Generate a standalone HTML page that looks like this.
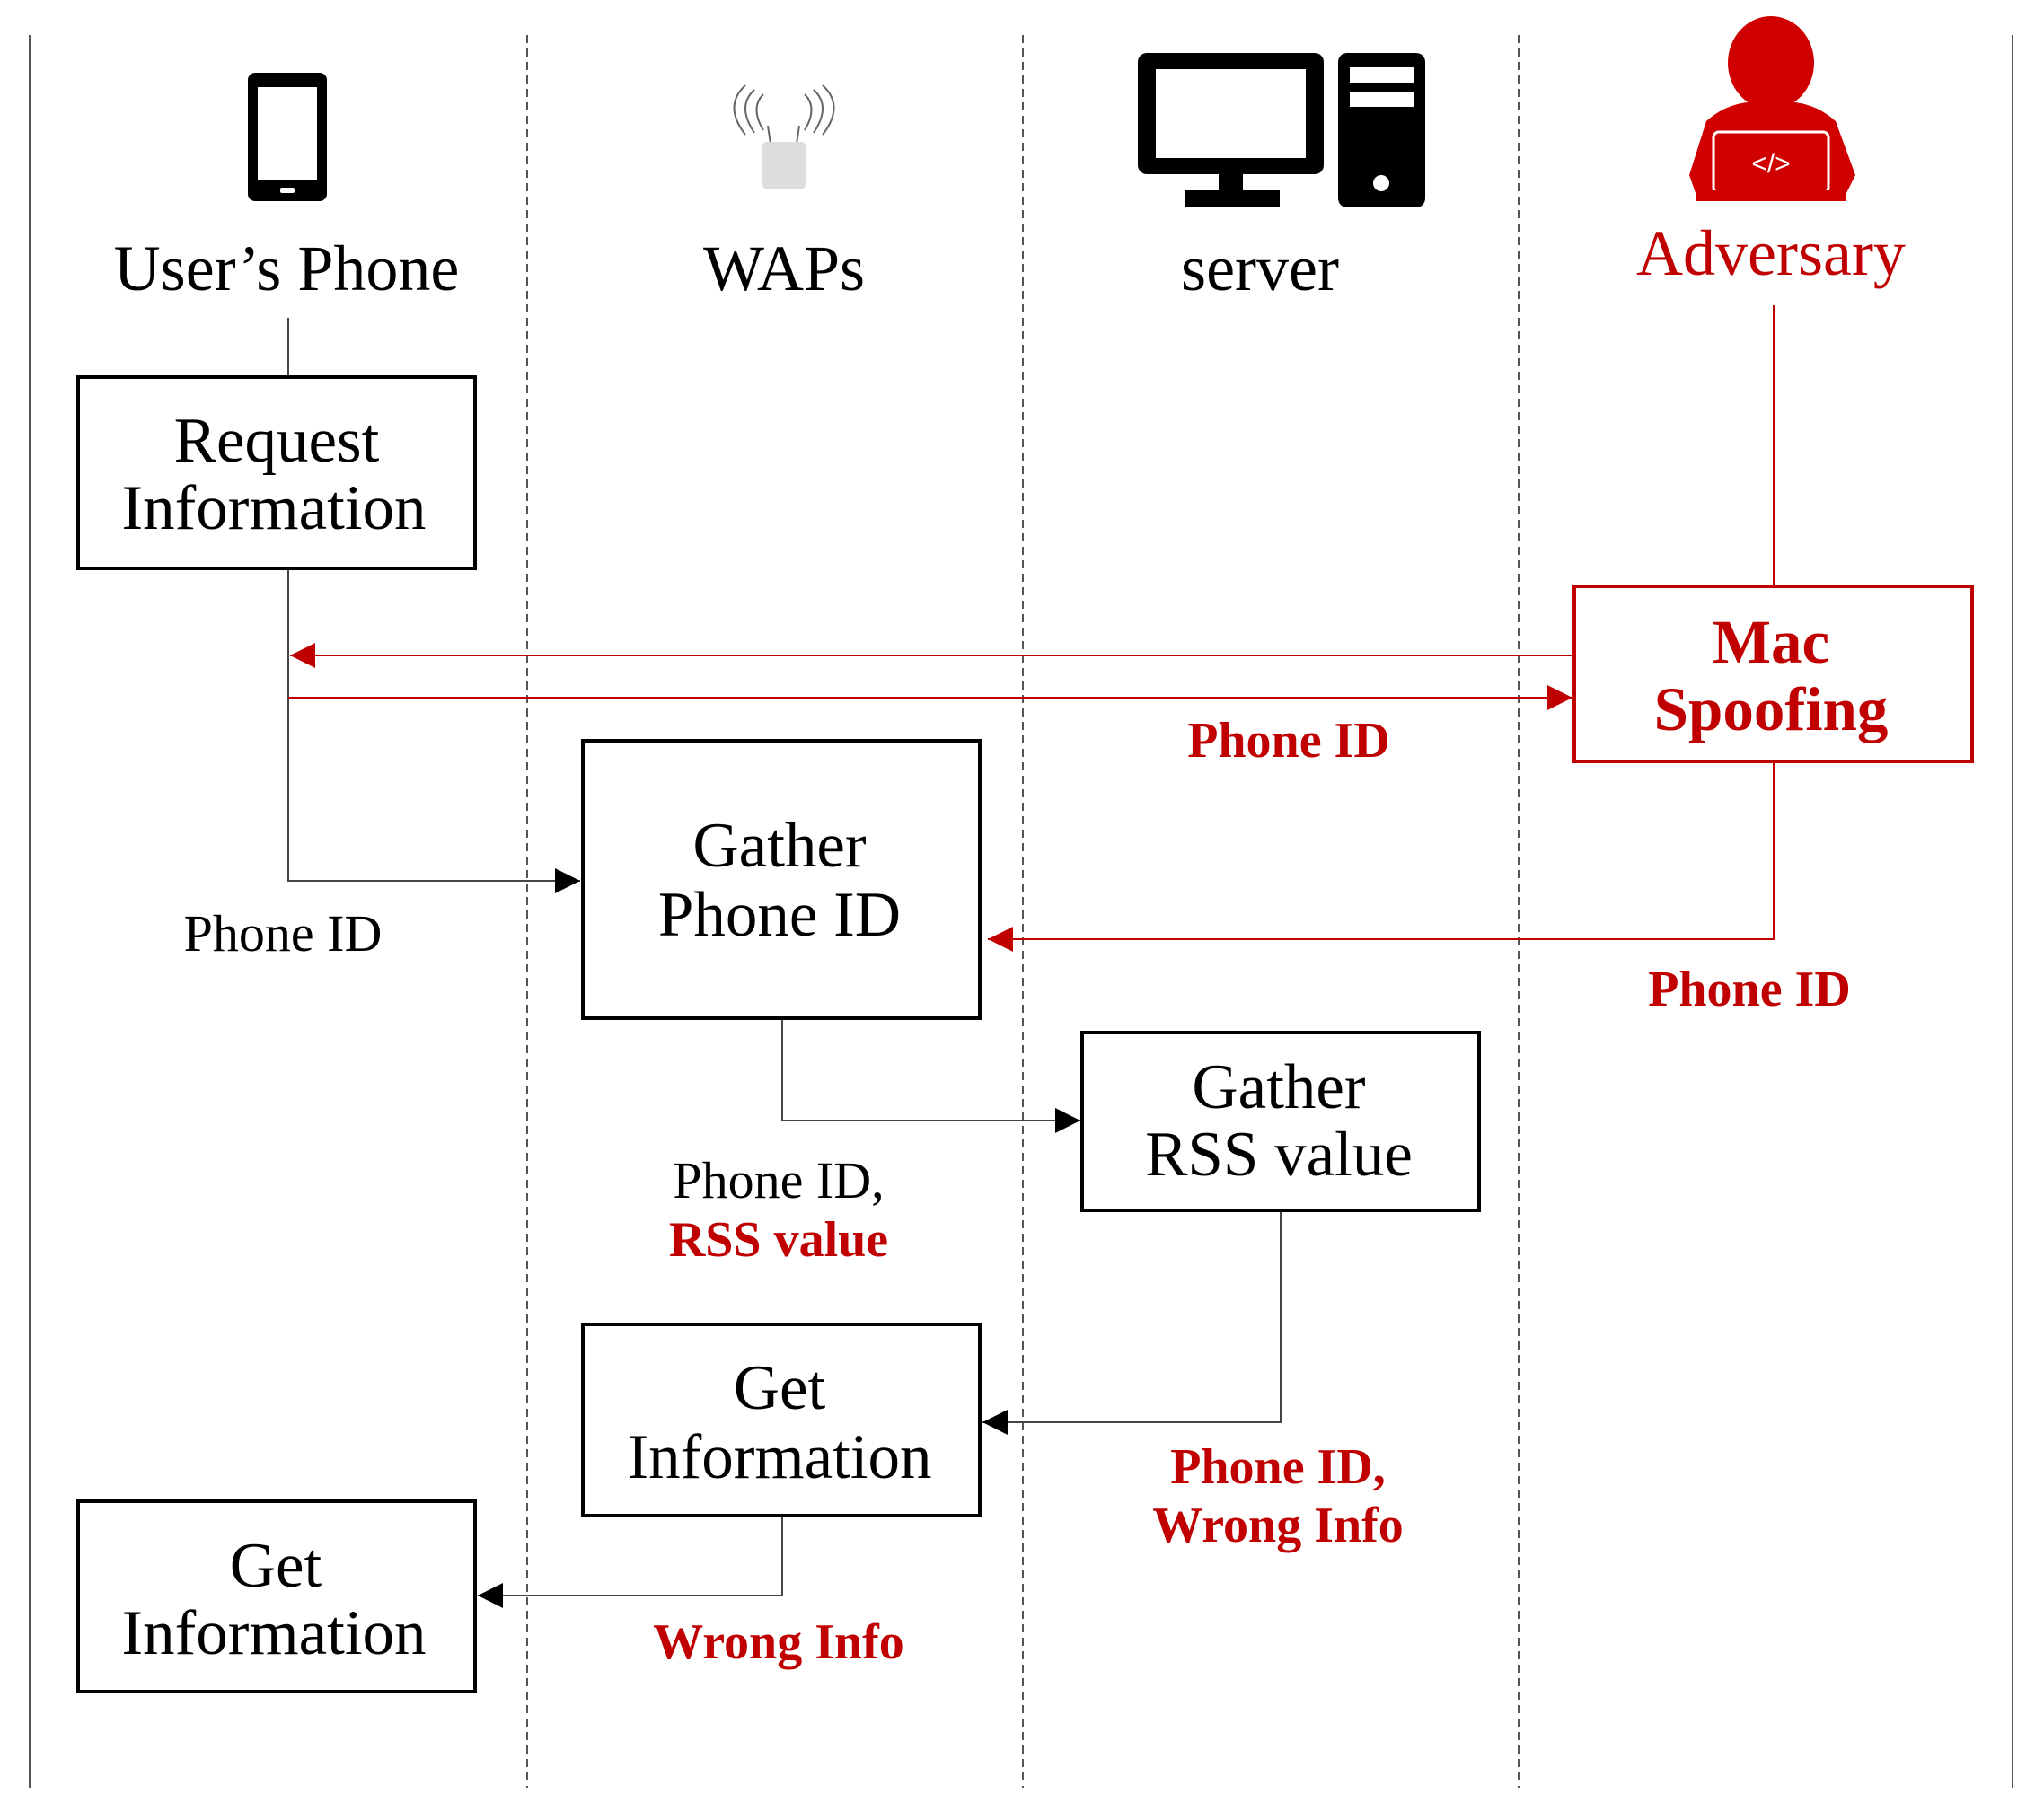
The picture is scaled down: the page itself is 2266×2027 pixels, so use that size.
<!DOCTYPE html>
<html><head><meta charset="utf-8"><style>html,body{margin:0;padding:0;background:#fff}svg{display:block}</style></head>
<body>
<svg width="2266" height="2027" viewBox="0 0 2266 2027" xmlns="http://www.w3.org/2000/svg" font-family="'Liberation Serif', serif">
<defs>
<marker id="ab" viewBox="0 0 10 10" refX="10" refY="5" markerWidth="28" markerHeight="28" markerUnits="userSpaceOnUse" orient="auto"><path d="M0,0 L10,5 L0,10 z" fill="#000"/></marker>
<marker id="ar" viewBox="0 0 10 10" refX="10" refY="5" markerWidth="28" markerHeight="28" markerUnits="userSpaceOnUse" orient="auto"><path d="M0,0 L10,5 L0,10 z" fill="#c00000"/></marker>
</defs>
<line x1="33" y1="39" x2="33" y2="1991" stroke="#555" stroke-width="2"/>
<line x1="2241" y1="39" x2="2241" y2="1991" stroke="#555" stroke-width="2"/>
<g stroke="#555" stroke-width="2" stroke-dasharray="9,6">
<line x1="587" y1="39" x2="587" y2="1991"/>
<line x1="1139" y1="39" x2="1139" y2="1991"/>
<line x1="1691" y1="39" x2="1691" y2="1991"/>
</g>
<rect x="276" y="81" width="88" height="143" rx="8" fill="#000"/>
<rect x="287" y="97" width="66" height="104" fill="#fff"/>
<rect x="312" y="209" width="16" height="6" rx="2" fill="#fff"/>
<g fill="none" stroke="#666" stroke-width="2">
<path d="M850,145 Q835,120 850,105"/><path d="M840,148 Q820,118 840,100"/><path d="M830,150 Q805,118 830,95"/>
<path d="M896,145 Q911,120 896,105"/><path d="M906,148 Q926,118 906,100"/><path d="M916,150 Q941,118 916,95"/>
<line x1="855" y1="140" x2="858" y2="160"/><line x1="890" y1="140" x2="887" y2="160"/>
</g>
<rect x="849" y="158" width="48" height="52" rx="4" fill="#ddd"/>
<rect x="1267" y="59" width="207" height="135" rx="10" fill="#000"/>
<rect x="1287" y="77" width="167" height="99" fill="#fff"/>
<rect x="1357" y="194" width="27" height="20" fill="#000"/>
<rect x="1320" y="212" width="105" height="19" fill="#000"/>
<rect x="1490" y="59" width="97" height="172" rx="10" fill="#000"/>
<rect x="1503" y="75" width="71" height="17" fill="#fff"/>
<rect x="1503" y="102" width="71" height="17" fill="#fff"/>
<circle cx="1538" cy="204" r="9" fill="#fff"/>
<ellipse cx="1972" cy="70" rx="48" ry="52" fill="#d00000"/>
<path d="M1900,135 Q1930,108 1972,115 Q2014,108 2044,135 L2066,195 L2056,215 L1888,215 L1881,195 Z" fill="#d00000"/>
<rect x="1908" y="147" width="128" height="68" rx="6" fill="none" stroke="#fff" stroke-width="3"/>
<rect x="1888" y="212" width="168" height="12" fill="#d00000"/>
<text x="1972" y="192" font-size="30" fill="#fff" text-anchor="middle" font-family="'Liberation Sans',sans-serif">&lt;/&gt;</text>
<g font-size="72" text-anchor="middle">
<text x="319" y="323">User’s Phone</text>
<text x="873" y="323">WAPs</text>
<text x="1403" y="323">server</text>
<text x="1972" y="306" fill="#c00000">Adversary</text>
</g>
<line x1="321" y1="354" x2="321" y2="420" stroke="#444" stroke-width="2"/>
<polyline points="321,633 321,981 646,981" fill="none" stroke="#444" stroke-width="2" marker-end="url(#ab)"/>
<line x1="1975" y1="340" x2="1975" y2="653" stroke="#c00000" stroke-width="2"/>
<line x1="1753" y1="730" x2="323" y2="730" stroke="#c00000" stroke-width="2" marker-end="url(#ar)"/>
<line x1="321" y1="777" x2="1751" y2="777" stroke="#c00000" stroke-width="2" marker-end="url(#ar)"/>
<polyline points="1975,848 1975,1046 1100,1046" fill="none" stroke="#c00000" stroke-width="2" marker-end="url(#ar)"/>
<polyline points="871,1134 871,1248 1203,1248" fill="none" stroke="#444" stroke-width="2" marker-end="url(#ab)"/>
<polyline points="1426,1348 1426,1584 1094,1584" fill="none" stroke="#444" stroke-width="2" marker-end="url(#ab)"/>
<polyline points="871,1688 871,1777 532,1777" fill="none" stroke="#444" stroke-width="2" marker-end="url(#ab)"/>
<g fill="#fff" stroke="#000" stroke-width="4">
<rect x="87" y="420" width="442" height="213"/>
<rect x="649" y="825" width="442" height="309"/>
<rect x="1205" y="1150" width="442" height="198"/>
<rect x="649" y="1475" width="442" height="213"/>
<rect x="87" y="1672" width="442" height="212"/>
</g>
<rect x="1753" y="653" width="443" height="195" fill="#fff" stroke="#c00000" stroke-width="4"/>
<g font-size="71" text-anchor="middle">
<text x="308" y="514">Request</text>
<text x="305" y="589">Information</text>
<text x="868" y="965">Gather</text>
<text x="868" y="1042">Phone ID</text>
<text x="1424" y="1234">Gather</text>
<text x="1424" y="1309">RSS value</text>
<text x="868" y="1569">Get</text>
<text x="868" y="1646">Information</text>
<text x="307" y="1767">Get</text>
<text x="305" y="1842">Information</text>
</g>
<g font-size="69" font-weight="bold" fill="#c00000" text-anchor="middle">
<text x="1972" y="738">Mac</text>
<text x="1972" y="813">Spoofing</text>
</g>
<g font-size="58" text-anchor="middle">
<text x="315" y="1059">Phone ID</text>
<text x="867" y="1334">Phone ID,</text>
</g>
<g font-size="56" font-weight="bold" fill="#c00000" text-anchor="middle">
<text x="1435" y="843">Phone ID</text>
<text x="1948" y="1120">Phone ID</text>
<text x="867" y="1399">RSS value</text>
<text x="1423" y="1652">Phone ID,</text>
<text x="1423" y="1717">Wrong Info</text>
<text x="867" y="1847">Wrong Info</text>
</g>
</svg>
</body></html>
